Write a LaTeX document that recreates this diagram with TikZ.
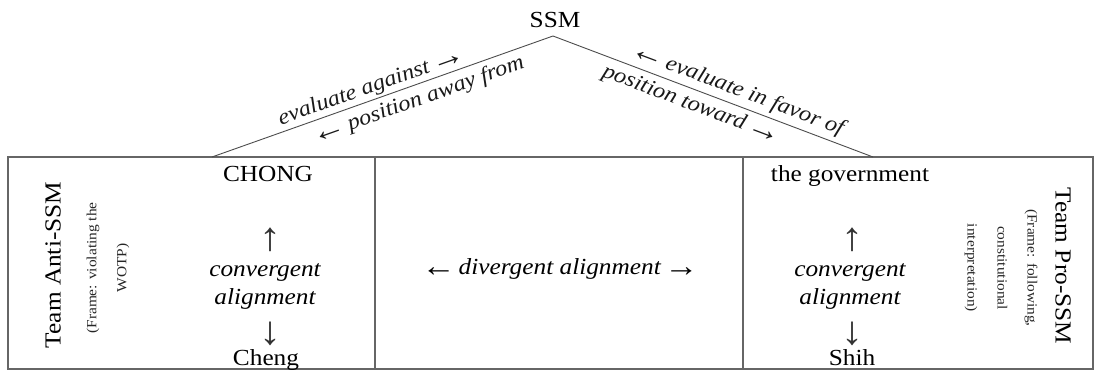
\documentclass[tikz,border=0pt]{standalone}
\usepackage{fontspec}
\setmainfont{Liberation Serif}[FakeStretch=1.1]
\newcommand{\myla}{{\upshape\fontsize{31}{30}\selectfont\raisebox{-1.5pt}{←}}\hspace{3pt}}
\newcommand{\myra}{\hspace{3pt}{\upshape\fontsize{31}{30}\selectfont\raisebox{-1.5pt}{→}}}
\begin{document}
\begin{tikzpicture}[x=1pt,y=-1pt,
  txt/.style={font=\fontsize{23}{27}\selectfont, inner sep=0pt, text=black},
  itx/.style={font=\fontsize{23}{27}\selectfont\itshape, inner sep=0pt, text=black},
  arr/.style={font=\fontsize{40}{40}\selectfont, inner sep=0pt, text=black!80},
  team/.style={font=\fontsize{23}{27}\selectfont, inner sep=0pt, text=black},
  frame/.style={font=\fontsize{14}{30}\selectfont, align=center, inner sep=0pt, text=black!85},
  slab/.style={font=\fontsize{22}{26}\selectfont\itshape, sloped, text=black!90},
  boxline/.style={draw=black!60, line width=1.4pt},
  slope/.style={draw=black!70, line width=0.9pt}
]
\useasboundingbox (0,0) rectangle (1101,371);

% box
\draw[boxline] (8,157) rectangle (1093,369);
\draw[boxline] (375,157) -- (375,369);
\draw[boxline] (743,157) -- (743,369);

% top
\node[txt, anchor=base] (ssm) at (555,28) {SSM};
\coordinate (apex) at (553,36);
\coordinate (lt) at (212,157);
\coordinate (rt) at (873,157);
\draw[slope] (lt) -- (apex)
  node[slab, pos=0.48, anchor=south, inner sep=2pt] (evag) {evaluate against\myra}
  node[slab, pos=0.59, anchor=north, inner sep=5pt] (paw) {\myla position away from};
\draw[slope] (apex) -- (rt)
  node[slab, pos=0.56, anchor=south, inner sep=4pt] (evfa) {\myla evaluate in favor of}
  node[slab, pos=0.45, anchor=north, inner sep=5pt] (ptow) {position toward\myra};

% left panel
\node[team, rotate=90] (anti) at (53,265) {Team Anti-SSM};
\node[frame, rotate=90] (antiframe) at (108,268) {(Frame: violating the\\WOTP)};
\node[txt, anchor=base] (chong) at (268,182) {CHONG};
\node[arr] (lup) at (270,240) {↑};
\node[itx, anchor=base] (lconv) at (265,277) {convergent};
\node[itx, anchor=base] (lalign) at (265,305) {alignment};
\node[arr] (ldown) at (270,334) {↓};
\node[txt, anchor=base] (cheng) at (266,366) {Cheng};

% middle
\node[txt, anchor=base] (div) at (560,275) {\myla\textit{divergent alignment}\myra};

% right panel
\node[txt, anchor=base] (gov) at (850,182) {the government};
\node[arr] (rup) at (852,240) {↑};
\node[itx, anchor=base] (rconv) at (850,277) {convergent};
\node[itx, anchor=base] (ralign) at (850,305) {alignment};
\node[arr] (rdown) at (852,334) {↓};
\node[txt, anchor=base] (shih) at (852,366) {Shih};
\node[team, rotate=-90] (pro) at (1063,266) {Team Pro-SSM};
\node[frame, rotate=-90] (proframe) at (1001,268) {(Frame: following,\\constitutional\\interpretation)};
\end{tikzpicture}
\end{document}
